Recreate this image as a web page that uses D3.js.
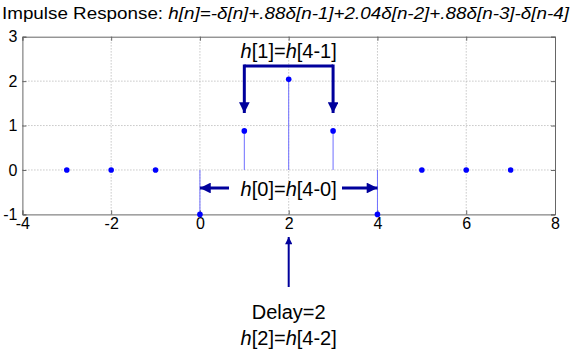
<!DOCTYPE html>
<html>
<head>
<meta charset="utf-8">
<script src="https://cdn.jsdelivr.net/npm/d3@7"></script>
<style>
  body { margin: 0; background: #fff; }
  text { font-family: "Liberation Sans", Arial, sans-serif; }
</style>
</head>
<body>
<div id="chart"></div>
<script>
// impulse response samples
const nValues = [-3, -2, -1, 0, 1, 2, 3, 4, 5, 6, 7];
const hValues = [0, 0, 0, -1, 0.88, 2.04, 0.88, -1, 0, 0, 0];
const xTicks = [-4, -2, 0, 2, 4, 6, 8];
const yTicks = [-1, 0, 1, 2, 3];

const width = 571, height = 361;
const margin = {top: 36.7, right: 16, bottom: 146.6, left: 22.4};

const svg = d3.select("#chart")
    .append("svg")
    .attr("width", width)
    .attr("height", height);

const x = d3.scaleLinear().domain([-4, 8]).range([margin.left, width - margin.right]);
const y = d3.scaleLinear().domain([-1, 3]).range([height - margin.bottom, margin.top]);

const navy = "#00009c";
const fmt = d => String(d);

// arrow marker
svg.append("defs").append("marker")
    .attr("id", "arrow")
    .attr("viewBox", "0 0 10 10")
    .attr("refX", 10)
    .attr("refY", 5)
    .attr("markerWidth", 4)
    .attr("markerHeight", 3.6)
    .attr("markerUnits", "strokeWidth")
    .attr("orient", "auto")
    .append("path")
    .attr("d", "M0,0 L10,5 L0,10 z")
    .attr("fill", navy);

// grid
svg.append("g")
    .selectAll("line")
    .data(xTicks.slice(1, -1))
    .enter().append("line")
    .attr("x1", d => x(d)).attr("x2", d => x(d))
    .attr("y1", y(-1)).attr("y2", y(3))
    .attr("stroke", "#aaa")
    .attr("stroke-dasharray", "1,2");

svg.append("g")
    .selectAll("line")
    .data(yTicks.slice(1, -1))
    .enter().append("line")
    .attr("x1", x(-4)).attr("x2", x(8))
    .attr("y1", d => y(d)).attr("y2", d => y(d))
    .attr("stroke", "#aaa")
    .attr("stroke-dasharray", "1,2");

// stems
svg.append("g")
    .selectAll("line")
    .data(nValues.map((n, i) => ({n: n, h: hValues[i]})).filter(d => d.h !== 0))
    .enter().append("line")
    .attr("x1", d => x(d.n)).attr("x2", d => x(d.n))
    .attr("y1", y(0)).attr("y2", d => y(d.h))
    .attr("stroke", "#6f6fff")
    .attr("stroke-width", 1);

// frame + axes
const xAxis = svg.append("g")
    .attr("transform", `translate(0,${y(-1)})`)
    .call(d3.axisBottom(x).tickValues(xTicks).tickSize(-4).tickPadding(2).tickFormat(fmt));
const xAxisTop = svg.append("g")
    .attr("transform", `translate(0,${y(3)})`)
    .call(d3.axisTop(x).tickValues(xTicks).tickSize(-4).tickFormat(""));
const yAxis = svg.append("g")
    .attr("transform", `translate(${x(-4)},0)`)
    .call(d3.axisLeft(y).tickValues(yTicks).tickSize(-4).tickPadding(5).tickFormat(fmt));
const yAxisRight = svg.append("g")
    .attr("transform", `translate(${x(8)},0)`)
    .call(d3.axisRight(y).tickValues(yTicks).tickSize(-4).tickFormat(""));

[xAxis, xAxisTop, yAxis, yAxisRight].forEach(g => {
    g.select(".domain").attr("stroke", "#666");
    g.selectAll(".tick line").attr("stroke", "#666");
    g.selectAll("text")
        .attr("font-size", 16)
        .attr("fill", "#000")
        .attr("font-family", "Liberation Sans, Arial, sans-serif");
});
xAxis.selectAll("text").attr("dy", "0.8em");

// dots
svg.append("g")
    .selectAll("circle")
    .data(nValues.map((n, i) => ({n: n, h: hValues[i]})))
    .enter().append("circle")
    .attr("cx", d => x(d.n))
    .attr("cy", d => y(d.h))
    .attr("r", 2.8)
    .attr("fill", "#0000ff");

// title
const title = svg.append("text")
    .attr("x", 2)
    .attr("y", 19)
    .attr("font-size", 16)
    .attr("textLength", 567)
    .attr("lengthAdjust", "spacingAndGlyphs");
title.append("tspan").text("Impulse Response: ");
title.append("tspan").attr("font-style", "italic")
    .text("h[n]=-δ[n]+.88δ[n-1]+2.04δ[n-2]+.88δ[n-3]-δ[n-4]");

// annotation helper for "h[a]=h[b]"
function hLabel(cx, cy, a, b) {
    const t = svg.append("text")
        .attr("x", cx)
        .attr("y", cy)
        .attr("text-anchor", "middle")
        .attr("font-size", 20)
        .attr("fill", "#000");
    t.append("tspan").attr("font-style", "italic").text("h");
    t.append("tspan").text("[" + a + "]=");
    t.append("tspan").attr("font-style", "italic").text("h");
    t.append("tspan").text("[" + b + "]");
    return t;
}

// bracket h[1]=h[4-1]
const bracketY = 66;
svg.append("path")
    .attr("d", `M${x(1)},${bracketY} L${x(3)},${bracketY}`)
    .attr("stroke", navy).attr("stroke-width", 3).attr("fill", "none");
[1, 3].forEach(n => {
    svg.append("line")
        .attr("x1", x(n)).attr("x2", x(n))
        .attr("y1", bracketY - 1.5).attr("y2", 113)
        .attr("stroke", navy).attr("stroke-width", 3)
        .attr("marker-end", "url(#arrow)");
});
hLabel(x(2), 58, "1", "4-1");

// h[0]=h[4-0] with horizontal arrows
const arrowY = 188;
svg.append("line")
    .attr("x1", 229).attr("x2", x(0))
    .attr("y1", arrowY).attr("y2", arrowY)
    .attr("stroke", navy).attr("stroke-width", 3)
    .attr("marker-end", "url(#arrow)");
svg.append("line")
    .attr("x1", 342).attr("x2", x(4))
    .attr("y1", arrowY).attr("y2", arrowY)
    .attr("stroke", navy).attr("stroke-width", 3)
    .attr("marker-end", "url(#arrow)");
hLabel(x(2), 195.5, "0", "4-0");

// delay arrow
svg.append("line")
    .attr("x1", x(2)).attr("x2", x(2))
    .attr("y1", 287).attr("y2", 237)
    .attr("stroke", navy).attr("stroke-width", 2)
    .attr("marker-end", "url(#arrow)");

svg.append("text")
    .attr("x", x(2))
    .attr("y", 318.5)
    .attr("text-anchor", "middle")
    .attr("font-size", 20)
    .text("Delay=2");
hLabel(x(2), 344.5, "2", "4-2");
</script>
</body>
</html>
